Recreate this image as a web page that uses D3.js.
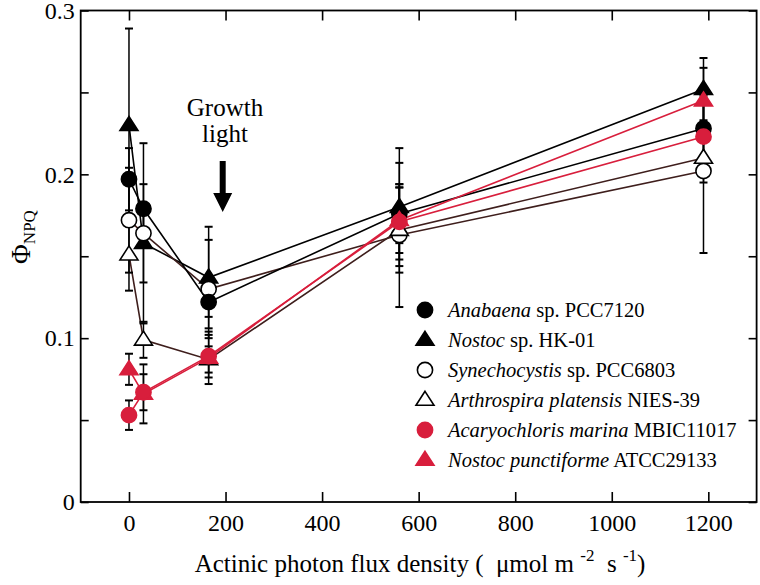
<!DOCTYPE html>
<html><head><meta charset="utf-8">
<script src="https://cdn.jsdelivr.net/npm/d3@7"></script>
<style>body{margin:0;background:#fff}svg{display:block}</style>
</head><body>
<svg id="c" width="760" height="585"></svg>
<script>
const xValues = [0, 30, 165, 560, 1190];
const anabaena = [0.197, 0.179, 0.122, 0.176, 0.228];
const anabaenaErr = [0.019, 0.015, 0.009, 0.018, 0.020];
const nostocHK = [0.230, 0.158, 0.137, 0.180, 0.252];
const nostocHKErr = [0.059, 0.024, 0.031, 0.036, 0.019];
const synecho = [0.172, 0.164, 0.130, 0.163, 0.202];
const synechoErr = [0.032, 0.055, 0.030, 0.044, 0.050];
const arthro = [0.151, 0.099, 0.087, 0.166, 0.210];
const arthroErr = [0.022, 0.011, 0.008, 0.026, 0.015];
const acaryo = [0.053, 0.067, 0.089, 0.171, 0.223];
const acaryoErr = [0.009, 0.011, 0.013, 0.023, 0.020];
const npunct = [0.081, 0.066, 0.088, 0.172, 0.245];
const npunctErr = [0.0095, 0.018, 0.016, 0.020, 0.020];
const xTicks = [0, 200, 400, 600, 800, 1000, 1200];
const yTicks = [0, 0.1, 0.2, 0.3];
const yMinor = [0.05, 0.15, 0.25];

const RED = "#d81e3c", BLK = "#000", BRN = "#3e1e1c";
const FONT = '"Liberation Serif"';
const series = [
  {it:"Anabaena", rest:" sp. PCC7120", v:anabaena, e:anabaenaErr, shape:"circle", fill:BLK, stroke:BLK, line:BLK},
  {it:"Nostoc", rest:" sp. HK-01", v:nostocHK, e:nostocHKErr, shape:"tri", fill:BLK, stroke:BLK, line:BLK},
  {it:"Synechocystis", rest:" sp. PCC6803", v:synecho, e:synechoErr, shape:"circle", fill:"#fff", stroke:BLK, line:BRN},
  {it:"Arthrospira platensis", rest:" NIES-39", v:arthro, e:arthroErr, shape:"tri", fill:"#fff", stroke:BLK, line:BRN},
  {it:"Acaryochloris marina", rest:" MBIC11017", v:acaryo, e:acaryoErr, shape:"circle", fill:RED, stroke:RED, line:RED},
  {it:"Nostoc punctiforme", rest:" ATCC29133", v:npunct, e:npunctErr, shape:"tri", fill:RED, stroke:RED, line:RED}
];
const drawOrder = [1, 2, 0, 3, 5, 4];

const svg = d3.select("#c");
const x = d3.scaleLinear().domain([-100, 1300]).range([80.7, 756.6]);
const y = d3.scaleLinear().domain([0, 0.3]).range([502, 10.5]);
const L = x.range()[0], R = x.range()[1], T = y.range()[1], B = y.range()[0];

// axes
const ax = svg.append("g");
ax.append("g").attr("transform",`translate(0,${B})`)
  .call(d3.axisBottom(x).tickValues(xTicks).tickSize(-10).tickPadding(12).tickFormat(d3.format("d")));
ax.append("g").attr("transform",`translate(0,${T})`)
  .call(d3.axisTop(x).tickValues(xTicks).tickSize(-10).tickFormat(""));
ax.append("g").attr("transform",`translate(${L},0)`)
  .call(d3.axisLeft(y).tickValues(yTicks).tickSize(-8).tickPadding(6).tickFormat(d=>d===0?"0":d3.format(".1f")(d)));
ax.append("g").attr("transform",`translate(${L},0)`)
  .call(d3.axisLeft(y).tickValues(yMinor).tickSize(-8).tickFormat(""));
ax.append("g").attr("transform",`translate(${R},0)`)
  .call(d3.axisRight(y).tickValues(yTicks.concat(yMinor)).tickSize(-8).tickFormat(""));
ax.selectAll(".domain").remove();
ax.selectAll(".tick line").attr("stroke","#000").attr("stroke-width",1.6);
ax.selectAll(".tick text").attr("fill","#000").style("font-family",FONT).style("font-size","24px");
svg.append("rect").attr("x",L).attr("y",T).attr("width",R-L).attr("height",B-T)
  .attr("fill","none").attr("stroke","#000").attr("stroke-width",1.8);

// lines, error bars
const gData = svg.append("g");
const line = d3.line().x((d,i)=>x(xValues[i])).y(d=>y(d));
drawOrder.forEach(k=>{
  const s = series[k];
  gData.append("path").attr("d", line(s.v)).attr("fill","none").attr("stroke",s.line).attr("stroke-width",1.6);
});
drawOrder.forEach(k=>{
  const s = series[k];
  s.v.forEach((v,i)=>{
    const cx = x(xValues[i]);
    const y1 = y(v + s.e[i]), y2 = y(v - s.e[i]);
    gData.append("line").attr("x1",cx).attr("x2",cx).attr("y1",y1).attr("y2",y2).attr("stroke","#000").attr("stroke-width",1.5);
    [y1,y2].forEach(yy=>gData.append("line").attr("x1",cx-4).attr("x2",cx+4).attr("y1",yy).attr("y2",yy).attr("stroke","#000").attr("stroke-width",2));
  });
});
function marker(g, s, cx, cy){
  if (s.shape==="circle"){
    g.append("circle").attr("cx",cx).attr("cy",cy).attr("r",7.6).attr("fill",s.fill).attr("stroke",s.stroke).attr("stroke-width",1.6);
  } else {
    const h = 14, w = 18;
    g.append("path").attr("d",`M${cx},${cy-h*0.62}L${cx+w/2},${cy+h*0.38}L${cx-w/2},${cy+h*0.38}Z`)
      .attr("fill",s.fill).attr("stroke",s.stroke).attr("stroke-width",1.6).attr("stroke-linejoin","miter");
  }
}
drawOrder.forEach(k=>{
  const s = series[k];
  s.v.forEach((v,i)=>marker(gData, s, x(xValues[i]), y(v)));
});

// legend
const lg = svg.append("g");
series.forEach((s,i)=>{
  const yy = 310 + i*30;
  marker(lg, s, 425, yy);
  const t = lg.append("text").attr("x",448).attr("y",yy+7).style("font-family",FONT).style("font-size","20.5px").attr("fill","#000");
  t.append("tspan").style("font-style","italic").text(s.it);
  t.append("tspan").text(s.rest);
});

// annotation
svg.append("text").attr("x",225).attr("y",116).attr("text-anchor","middle").style("font-family",FONT).style("font-size","25px").text("Growth");
svg.append("text").attr("x",225).attr("y",142).attr("text-anchor","middle").style("font-family",FONT).style("font-size","25px").text("light");
const ax0 = 222.7;
svg.append("path").attr("d",`M${ax0-3},161L${ax0+3},161L${ax0+3},193L${ax0+9.5},193L${ax0},212L${ax0-9.5},193L${ax0-3},193Z`).attr("fill","#000");

// axis titles
const xt = svg.append("text").attr("x",420).attr("y",572).attr("text-anchor","middle").style("font-family",FONT).style("font-size","25px").attr("fill","#000").attr("xml:space","preserve");
xt.append("tspan").text("Actinic photon flux density (  μmol m ");
xt.append("tspan").attr("dy",-11).style("font-size","17px").text("-2");
xt.append("tspan").attr("dy",11).text("  s ");
xt.append("tspan").attr("dy",-11).style("font-size","17px").text("-1");
xt.append("tspan").attr("dy",11).text(")");

const yt = svg.append("text").attr("transform","translate(30,237) rotate(-90)").attr("text-anchor","middle").style("font-family",FONT).style("font-size","27px").attr("fill","#000");
yt.append("tspan").text("Φ");
yt.append("tspan").attr("dy",5).style("font-size","17px").text("NPQ");
</script>
</body></html>
